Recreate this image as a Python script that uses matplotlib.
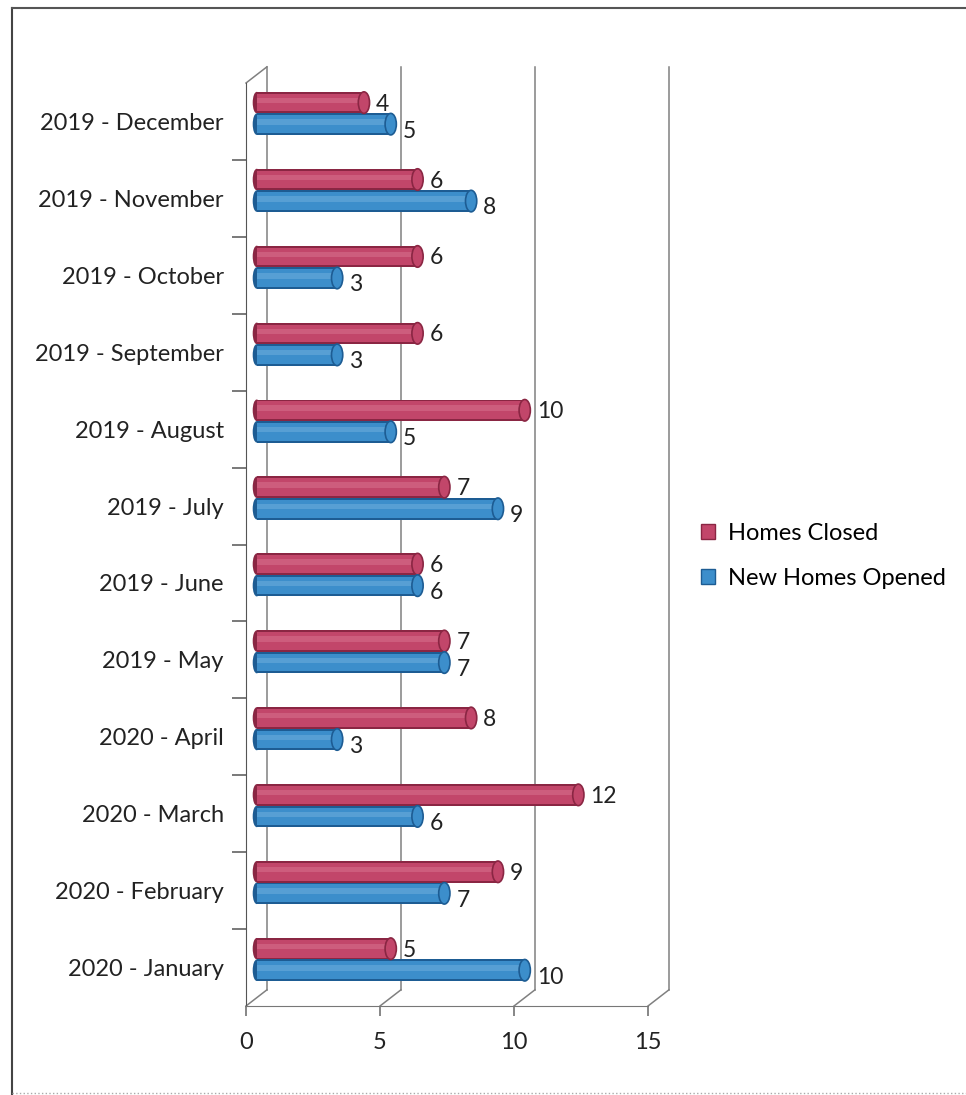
import numpy as np
import matplotlib.pyplot as plt
from matplotlib.patches import Ellipse, Patch
from matplotlib.lines import Line2D

plt.rcParams['font.family'] = ['Lato', 'DejaVu Sans']

# categories from bottom to top, as drawn
months = ['2020 - January', '2020 - February', '2020 - March', '2020 - April',
          '2019 - May', '2019 - June', '2019 - July', '2019 - August',
          '2019 - September', '2019 - October', '2019 - November', '2019 - December']
homes_closed = [5, 9, 12, 8, 7, 6, 7, 10, 6, 6, 6, 4]
new_opened = [10, 7, 6, 3, 7, 6, 9, 5, 3, 3, 8, 5]
xticks = [0, 5, 10, 15]

red = '#C2466A'
red_dark = '#8A2643'
red_light = '#D66E8A'
blue = '#3C8ECB'
blue_dark = '#1D5C93'
blue_light = '#6AABDB'

W, H = 966, 1095
fig = plt.figure(figsize=(W / 100, H / 100), dpi=100)
x0, x1 = 246, 648
ytop, ybot = 83, 1006
ax = fig.add_axes([x0 / W, 1 - ybot / H, (x1 - x0) / W, (ybot - ytop) / H])
ax.set_xlim(0, 15)
ax.set_ylim(-0.5, len(months) - 0.5)

# depth of the 3d box, in data units
ddx, ddy = 0.78, 0.21
# half-depth offset of the bars
bdx = 0.40

grid_c = '#808080'
ytop_d = len(months) - 0.5
for xv in xticks:
    ax.plot([xv + ddx, xv + ddx], [-0.5 + ddy, ytop_d + ddy], color=grid_c, lw=1.1, clip_on=False, zorder=1)
    ax.plot([xv, xv + ddx], [-0.5, -0.5 + ddy], color=grid_c, lw=1.1, clip_on=False, zorder=1)
ax.plot([0, ddx], [ytop_d, ytop_d + ddy], color=grid_c, lw=1.1, clip_on=False, zorder=1)

bh = 0.28
y = np.arange(len(months))
yc = y + 0.245
yo = y - 0.035


def cyl(ypos, vals, base, dark, light, offs):
    ax.barh(ypos, vals, left=bdx, height=bh, color=dark, lw=0, zorder=3)
    ax.barh(ypos, vals, left=bdx, height=bh * 0.82, color=base, lw=0, zorder=3)
    ax.barh(ypos + bh * 0.1, vals, left=bdx, height=bh * 0.25, color=light, lw=0, zorder=3, alpha=0.6)
    for yy, v in zip(ypos, vals):
        ax.add_patch(Ellipse((bdx, yy), 0.3, bh, facecolor=dark, edgecolor='none', zorder=2))
        ax.add_patch(Ellipse((v + bdx, yy), 0.42, bh, facecolor=base, edgecolor=dark, lw=1.2, zorder=4))
        ax.text(v + bdx + 0.45, yy + offs, str(v), ha='left', va='center', fontsize=16.5, color='#222222', zorder=5)


cyl(yc, homes_closed, red, red_dark, red_light, -0.02)
cyl(yo, new_opened, blue, blue_dark, blue_light, -0.09)

ax.set_yticks(y)
ax.set_yticklabels(months, fontsize=17, color='#222222')
ax.set_yticks(np.arange(len(months) - 1) + 0.5, minor=True)
ax.tick_params(axis='y', which='major', length=0, pad=16)
ax.tick_params(axis='y', which='minor', length=10, width=1.1, color='#555555', direction='out')
ax.set_xticks(xticks)
ax.set_xticklabels([str(v) for v in xticks], fontsize=17, color='#222222')
ax.tick_params(axis='x', length=7, width=1.1, color='#666666', pad=12)

for s in ['top', 'right']:
    ax.spines[s].set_visible(False)
ax.spines['left'].set_color('#555555')
ax.spines['bottom'].set_color('#777777')
ax.spines['bottom'].set_linestyle((0, (3, 1)))
ax.set_facecolor('none')

handles = [Patch(facecolor=red, edgecolor=red_dark), Patch(facecolor=blue, edgecolor=blue_dark)]
fig.legend(handles, ['Homes Closed', 'New Homes Opened'], loc='center left',
           bbox_to_anchor=(680 / W, 1 - 556 / H), frameon=False, fontsize=17,
           handlelength=0.6, handleheight=0.6, handletextpad=0.55, labelspacing=1.0)

# scanned page frame
fig.add_artist(Line2D([12 / W, 12 / W], [1 - 8 / H, 0], transform=fig.transFigure, color='#444444', lw=1.5))
fig.add_artist(Line2D([12 / W, 1], [1 - 8 / H, 1 - 8 / H], transform=fig.transFigure, color='#555555', lw=1.5))
fig.add_artist(Line2D([12 / W, 1], [1 - 1093 / H, 1 - 1093 / H], transform=fig.transFigure, color='#aaaaaa', lw=1, ls=':'))

fig.savefig('out.png', dpi=100)
